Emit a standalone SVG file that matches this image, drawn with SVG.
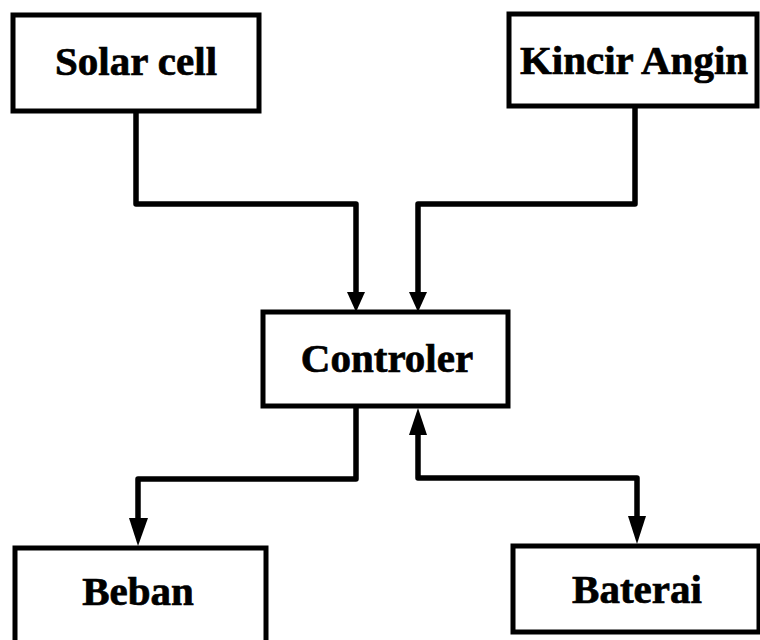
<svg xmlns="http://www.w3.org/2000/svg" width="760" height="640" viewBox="0 0 760 640">
<defs>
<style>
.box{fill:#fff;stroke:#000;stroke-width:5}
.lbl{font-family:"Liberation Serif","Times New Roman",serif;font-weight:bold;font-size:41px;fill:#000;stroke:#000;stroke-width:0.7;text-anchor:middle}
.wire{fill:none;stroke:#000;stroke-width:5.5;stroke-linejoin:round}
.ah{fill:#000}
</style>
</defs>
<rect width="760" height="640" fill="#fff"/>
<g id="connectors">
<path class="wire" d="M136,113 V204 H356 V296"/>
<path class="wire" d="M635,107 V204 H418 V296"/>
<path class="wire" d="M356,407 V479 H138 V522"/>
<path class="wire" d="M418,430 V478 H637 V520"/>
<polygon class="ah" points="347,292 365,292 356,312"/>
<polygon class="ah" points="409,292 427,292 418,312"/>
<polygon class="ah" points="129,518 148,518 138,546"/>
<polygon class="ah" points="409,435 427,435 418,408"/>
<polygon class="ah" points="628,516 646,516 637,544"/>
</g>
<g id="solar">
<rect class="box" x="13" y="15" width="246" height="96"/>
<text class="lbl" x="136" y="75">Solar cell</text>
</g>
<g id="kincir">
<rect class="box" x="509" y="14" width="248" height="92"/>
<text class="lbl" x="634" y="74">Kincir Angin</text>
</g>
<g id="controler">
<rect class="box" x="263" y="312" width="245" height="94"/>
<text class="lbl" x="387" y="372">Controler</text>
</g>
<g id="beban">
<rect class="box" x="15" y="548" width="251" height="110"/>
<text class="lbl" x="138" y="605">Beban</text>
</g>
<g id="baterai">
<rect class="box" x="513" y="546" width="246" height="86"/>
<text class="lbl" x="637" y="603">Baterai</text>
</g>
</svg>
